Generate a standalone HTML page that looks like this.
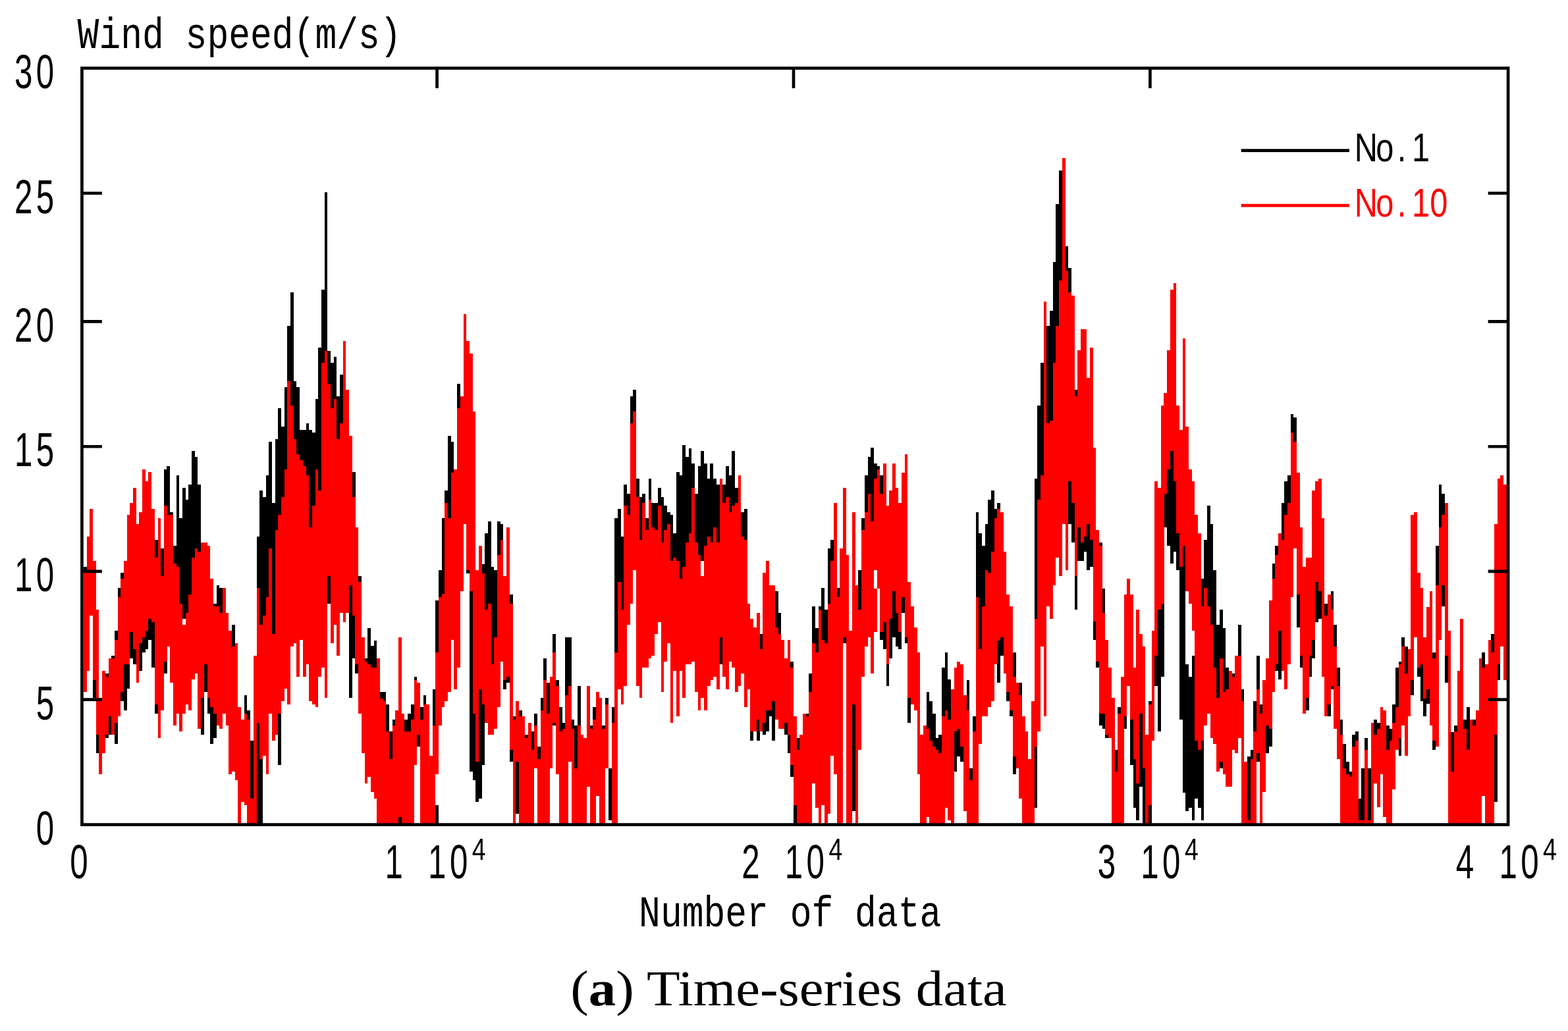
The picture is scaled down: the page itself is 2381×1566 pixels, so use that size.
<!DOCTYPE html>
<html lang="en"><head><meta charset="utf-8"><title>Time-series data</title>
<style>html,body{margin:0;padding:0;background:#fff}body{width:2381px;height:1566px;overflow:hidden}svg{display:block}</style>
</head><body>
<svg width="2381" height="1566" viewBox="0 0 2381 1566">
<defs><filter id="soft" x="0" y="0" width="100%" height="100%" filterUnits="userSpaceOnUse" color-interpolation-filters="sRGB"><feGaussianBlur stdDeviation="0.55"/></filter></defs>
<rect width="2381" height="1566" fill="#fff"/>
<g filter="url(#soft)">
<g shape-rendering="crispEdges"><path d="M127.0 861.2h4.74V870.2h-4.74zM141.0 1032.8h4.74V1060.2h-4.74zM145.7 1116.2h4.74V1143.6h-4.74zM159.8 1023.2h4.74V1120.6h-4.74zM164.5 1088.0h4.74V1116.2h-4.74zM169.2 995.5h4.74V1000.2h-4.74zM173.9 958.0h4.74V1129.6h-4.74zM178.5 893.4h4.74V907.2h-4.74zM183.2 870.2h4.74V1065.0h-4.74zM187.9 1009.4h4.74V1078.8h-4.74zM192.6 1009.4h4.74V1046.2h-4.74zM197.3 960.0h4.74V1000.2h-4.74zM202.0 985.9h4.74V1009.4h-4.74zM211.4 977.2h4.74V1018.5h-4.74zM216.0 967.7h4.74V990.7h-4.74zM220.7 958.0h4.74V985.9h-4.74zM225.4 939.8h4.74V971.9h-4.74zM230.1 944.6h4.74V1014.0h-4.74zM234.8 819.5h4.74V846.9h-4.74zM234.8 1069.6h4.74V1083.6h-4.74zM244.2 833.4h4.74V874.7h-4.74zM248.8 712.7h4.74V768.3h-4.74zM248.8 1005.0h4.74V1023.2h-4.74zM253.5 707.9h4.74V782.3h-4.74zM258.2 777.7h4.74V782.7h-4.74zM262.9 828.7h4.74V856.4h-4.74zM267.6 721.9h4.74V860.9h-4.74zM272.3 786.9h4.74V916.8h-4.74zM277.0 740.5h4.74V939.8h-4.74zM281.7 759.1h4.74V930.6h-4.74zM286.3 736.1h4.74V902.6h-4.74zM291.0 684.9h4.74V846.9h-4.74zM295.7 694.1h4.74V833.4h-4.74zM300.4 736.1h4.74V837.9h-4.74zM305.1 1060.2h4.74V1116.2h-4.74zM309.8 1009.4h4.74V1051.0h-4.74zM314.5 1060.2h4.74V1083.6h-4.74zM319.2 1074.2h4.74V1129.6h-4.74zM323.8 916.8h4.74V921.2h-4.74zM323.8 1083.6h4.74V1120.6h-4.74zM328.5 888.8h4.74V921.2h-4.74zM333.2 893.4h4.74V930.6h-4.74zM352.0 949.4h4.74V981.5h-4.74zM370.7 1055.8h4.74V1083.6h-4.74zM375.4 1078.8h4.74V1092.8h-4.74zM380.1 1125.2h4.74V1213.0h-4.74zM389.5 814.9h4.74V1250.9h-4.74zM394.1 745.3h4.74V1250.9h-4.74zM398.8 754.5h4.74V935.2h-4.74zM403.5 721.9h4.74V907.2h-4.74zM408.2 671.1h4.74V833.4h-4.74zM412.9 763.5h4.74V962.9h-4.74zM417.6 666.7h4.74V805.3h-4.74zM422.3 620.1h4.74V782.3h-4.74zM422.3 1083.6h4.74V1162.2h-4.74zM427.0 648.1h4.74V754.5h-4.74zM431.6 587.7h4.74V712.7h-4.74zM436.3 495.1h4.74V578.5h-4.74zM441.0 443.9h4.74V615.5h-4.74zM445.7 578.5h4.74V666.7h-4.74zM450.4 587.7h4.74V689.7h-4.74zM455.1 652.7h4.74V698.9h-4.74zM459.8 652.7h4.74V707.9h-4.74zM464.5 643.3h4.74V721.9h-4.74zM469.1 652.7h4.74V800.9h-4.74zM473.8 657.1h4.74V768.3h-4.74zM478.5 606.3h4.74V712.7h-4.74zM483.2 527.7h4.74V745.3h-4.74zM487.9 439.5h4.74V550.7h-4.74zM492.6 291.7h4.74V532.5h-4.74zM497.3 532.5h4.74V582.9h-4.74zM497.3 874.7h4.74V916.8h-4.74zM501.9 550.7h4.74V620.1h-4.74zM506.6 541.5h4.74V606.3h-4.74zM511.3 601.5h4.74V666.7h-4.74zM516.0 569.3h4.74V643.3h-4.74zM530.1 888.8h4.74V1060.2h-4.74zM534.8 717.1h4.74V754.5h-4.74zM534.8 935.2h4.74V1000.2h-4.74zM539.4 1009.4h4.74V1023.2h-4.74zM544.1 874.7h4.74V884.2h-4.74zM553.5 1000.2h4.74V1005.0h-4.74zM558.2 954.2h4.74V1008.9h-4.74zM562.9 981.1h4.74V1013.7h-4.74zM567.6 972.5h4.74V1013.7h-4.74zM576.9 1051.0h4.74V1060.6h-4.74zM581.6 1051.0h4.74V1065.0h-4.74zM586.3 1069.6h4.74V1111.4h-4.74zM591.0 1111.4h4.74V1152.6h-4.74zM595.7 1092.8h4.74V1102.2h-4.74zM614.4 1092.8h4.74V1111.4h-4.74zM619.1 1083.6h4.74V1111.4h-4.74zM623.8 1069.6h4.74V1092.8h-4.74zM628.5 1028.0h4.74V1032.8h-4.74zM633.2 1116.2h4.74V1134.4h-4.74zM637.9 1074.2h4.74V1092.8h-4.74zM642.6 1055.8h4.74V1069.6h-4.74zM656.6 1046.6h4.74V1102.2h-4.74zM661.3 912.0h4.74V990.7h-4.74zM661.3 1222.6h4.74V1250.9h-4.74zM666.0 866.0h4.74V907.2h-4.74zM670.7 786.9h4.74V902.4h-4.74zM675.4 745.3h4.74V763.9h-4.74zM680.1 661.9h4.74V786.9h-4.74zM684.7 671.1h4.74V717.5h-4.74zM694.1 582.9h4.74V620.1h-4.74zM708.2 866.0h4.74V870.8h-4.74zM712.9 898.2h4.74V1171.8h-4.74zM717.5 1083.6h4.74V1185.2h-4.74zM722.2 1157.4h4.74V1217.8h-4.74zM726.9 1046.6h4.74V1213.0h-4.74zM731.6 856.8h4.74V870.8h-4.74zM731.6 1069.6h4.74V1162.2h-4.74zM736.3 810.4h4.74V926.4h-4.74zM741.0 791.7h4.74V916.8h-4.74zM745.7 861.2h4.74V1009.4h-4.74zM750.4 866.0h4.74V967.7h-4.74zM755.0 791.7h4.74V842.6h-4.74zM759.7 796.1h4.74V819.5h-4.74zM764.4 1032.8h4.74V1046.6h-4.74zM769.1 1028.0h4.74V1037.2h-4.74zM773.8 903.0h4.74V916.8h-4.74zM773.8 1139.2h4.74V1157.4h-4.74zM778.5 1088.0h4.74V1092.8h-4.74zM783.2 1157.4h4.74V1236.0h-4.74zM787.9 1078.8h4.74V1088.0h-4.74zM797.2 1116.2h4.74V1120.6h-4.74zM806.6 1111.4h4.74V1139.2h-4.74zM811.3 1083.6h4.74V1102.2h-4.74zM816.0 1134.4h4.74V1152.6h-4.74zM820.7 1060.2h4.74V1078.8h-4.74zM825.4 1000.2h4.74V1032.8h-4.74zM830.0 1037.2h4.74V1083.6h-4.74zM839.4 962.9h4.74V990.7h-4.74zM839.4 1097.6h4.74V1102.2h-4.74zM844.1 1032.8h4.74V1042.0h-4.74zM848.8 1074.2h4.74V1111.4h-4.74zM853.5 1097.6h4.74V1106.6h-4.74zM858.2 967.7h4.74V1055.8h-4.74zM862.8 967.7h4.74V1042.0h-4.74zM867.5 1092.8h4.74V1106.6h-4.74zM872.2 1102.2h4.74V1167.0h-4.74zM876.9 1042.0h4.74V1102.2h-4.74zM895.7 1102.2h4.74V1106.6h-4.74zM900.3 1074.2h4.74V1092.8h-4.74zM914.4 1102.2h4.74V1106.6h-4.74zM919.1 1060.2h4.74V1069.6h-4.74zM923.8 1167.0h4.74V1245.6h-4.74zM928.5 1074.2h4.74V1097.6h-4.74zM933.2 786.9h4.74V990.7h-4.74zM937.8 773.1h4.74V884.2h-4.74zM942.5 814.9h4.74V926.4h-4.74zM947.2 736.1h4.74V768.3h-4.74zM951.9 750.1h4.74V782.3h-4.74zM956.6 601.5h4.74V643.3h-4.74zM961.3 592.3h4.74V624.9h-4.74zM966.0 726.7h4.74V754.5h-4.74zM970.6 754.5h4.74V819.5h-4.74zM975.3 750.1h4.74V763.9h-4.74zM980.0 786.9h4.74V805.3h-4.74zM984.7 726.7h4.74V759.1h-4.74zM989.4 763.9h4.74V800.9h-4.74zM994.1 763.9h4.74V805.3h-4.74zM998.8 740.5h4.74V768.3h-4.74zM1003.5 754.5h4.74V823.9h-4.74zM1008.1 768.3h4.74V805.3h-4.74zM1012.8 777.7h4.74V796.1h-4.74zM1017.5 782.3h4.74V851.7h-4.74zM1022.2 810.1h4.74V846.9h-4.74zM1026.9 717.1h4.74V851.7h-4.74zM1031.6 721.9h4.74V879.4h-4.74zM1036.3 675.9h4.74V860.9h-4.74zM1041.0 694.1h4.74V823.9h-4.74zM1045.6 680.5h4.74V810.1h-4.74zM1050.3 703.7h4.74V740.5h-4.74zM1055.0 749.7h4.74V823.9h-4.74zM1059.7 708.3h4.74V842.6h-4.74zM1064.4 684.9h4.74V851.7h-4.74zM1069.1 703.7h4.74V828.7h-4.74zM1073.8 726.7h4.74V814.9h-4.74zM1078.4 703.7h4.74V823.9h-4.74zM1083.1 726.7h4.74V800.9h-4.74zM1087.8 736.1h4.74V823.9h-4.74zM1092.5 967.7h4.74V1009.4h-4.74zM1097.2 736.1h4.74V763.9h-4.74zM1101.9 708.3h4.74V754.5h-4.74zM1106.6 721.9h4.74V777.7h-4.74zM1111.3 684.9h4.74V768.3h-4.74zM1115.9 740.5h4.74V763.9h-4.74zM1125.3 777.7h4.74V814.9h-4.74zM1130.0 773.1h4.74V819.5h-4.74zM1139.4 1111.4h4.74V1125.2h-4.74zM1148.8 1092.8h4.74V1125.2h-4.74zM1153.4 962.9h4.74V985.9h-4.74zM1158.1 1097.6h4.74V1116.2h-4.74zM1162.8 1078.8h4.74V1111.4h-4.74zM1167.5 1078.8h4.74V1088.0h-4.74zM1172.2 1065.0h4.74V1125.2h-4.74zM1176.9 898.2h4.74V953.2h-4.74zM1181.6 930.6h4.74V962.9h-4.74zM1190.9 1097.6h4.74V1116.2h-4.74zM1195.6 1116.2h4.74V1143.6h-4.74zM1200.3 1005.0h4.74V1014.0h-4.74zM1200.3 1162.2h4.74V1180.4h-4.74zM1205.0 1222.6h4.74V1250.9h-4.74zM1209.7 1120.6h4.74V1139.2h-4.74zM1223.7 1083.6h4.74V1088.0h-4.74zM1228.4 1023.2h4.74V1051.0h-4.74zM1233.1 921.2h4.74V976.9h-4.74zM1237.8 954.2h4.74V990.7h-4.74zM1242.5 921.2h4.74V926.4h-4.74zM1247.2 893.4h4.74V971.9h-4.74zM1251.9 926.4h4.74V976.9h-4.74zM1256.6 833.4h4.74V916.8h-4.74zM1261.2 819.5h4.74V851.7h-4.74zM1270.6 893.4h4.74V907.2h-4.74zM1280.0 967.7h4.74V976.9h-4.74zM1294.0 1069.6h4.74V1231.8h-4.74zM1303.4 866.0h4.74V926.0h-4.74zM1308.1 786.9h4.74V805.3h-4.74zM1312.8 721.9h4.74V777.7h-4.74zM1317.5 694.1h4.74V749.7h-4.74zM1322.2 680.1h4.74V791.7h-4.74zM1326.9 703.7h4.74V726.7h-4.74zM1331.5 708.3h4.74V712.7h-4.74zM1336.2 721.9h4.74V749.7h-4.74zM1336.2 960.0h4.74V971.9h-4.74zM1340.9 944.6h4.74V985.9h-4.74zM1345.6 1009.4h4.74V1042.0h-4.74zM1350.3 939.8h4.74V1000.2h-4.74zM1355.0 898.2h4.74V967.7h-4.74zM1359.7 930.6h4.74V981.5h-4.74zM1364.4 960.0h4.74V985.9h-4.74zM1369.0 907.2h4.74V930.6h-4.74zM1373.7 967.7h4.74V976.9h-4.74zM1378.4 1060.2h4.74V1097.6h-4.74zM1406.5 1051.0h4.74V1106.6h-4.74zM1411.2 1065.0h4.74V1125.2h-4.74zM1415.9 1083.6h4.74V1134.4h-4.74zM1420.6 1120.6h4.74V1139.2h-4.74zM1425.3 1116.2h4.74V1143.6h-4.74zM1430.0 1014.0h4.74V1088.0h-4.74zM1434.7 990.7h4.74V1078.8h-4.74zM1439.3 1032.4h4.74V1092.8h-4.74zM1448.7 1111.4h4.74V1171.8h-4.74zM1453.4 1106.6h4.74V1148.8h-4.74zM1458.1 1134.4h4.74V1157.4h-4.74zM1467.5 1032.8h4.74V1078.8h-4.74zM1472.2 1167.0h4.74V1185.2h-4.74zM1476.8 1088.0h4.74V1111.4h-4.74zM1481.5 777.7h4.74V907.2h-4.74zM1486.2 810.1h4.74V985.9h-4.74zM1490.9 828.7h4.74V921.2h-4.74zM1495.6 796.1h4.74V866.0h-4.74zM1500.3 759.1h4.74V870.2h-4.74zM1505.0 745.3h4.74V837.9h-4.74zM1509.7 773.1h4.74V786.9h-4.74zM1514.3 763.9h4.74V773.1h-4.74zM1514.3 972.5h4.74V1037.2h-4.74zM1519.0 967.7h4.74V995.5h-4.74zM1528.4 1051.0h4.74V1065.0h-4.74zM1533.1 1078.8h4.74V1088.0h-4.74zM1537.8 990.7h4.74V1028.0h-4.74zM1537.8 1148.8h4.74V1176.2h-4.74zM1547.1 1037.2h4.74V1055.8h-4.74zM1570.6 726.7h4.74V939.8h-4.74zM1570.6 1134.4h4.74V1227.0h-4.74zM1575.3 615.5h4.74V759.1h-4.74zM1580.0 550.7h4.74V721.9h-4.74zM1589.3 495.1h4.74V643.3h-4.74zM1594.0 472.1h4.74V638.9h-4.74zM1598.7 397.9h4.74V550.7h-4.74zM1603.4 309.7h4.74V495.1h-4.74zM1608.1 258.9h4.74V425.5h-4.74zM1617.5 374.4h4.74V411.4h-4.74zM1622.1 407.0h4.74V443.9h-4.74zM1622.1 731.3h4.74V795.9h-4.74zM1626.8 763.9h4.74V823.9h-4.74zM1631.5 592.3h4.74V601.5h-4.74zM1631.5 874.8h4.74V925.8h-4.74zM1636.2 801.1h4.74V851.7h-4.74zM1640.9 823.9h4.74V851.7h-4.74zM1645.6 815.0h4.74V837.7h-4.74zM1650.3 795.9h4.74V865.6h-4.74zM1654.9 819.8h4.74V860.9h-4.74zM1659.6 944.4h4.74V971.9h-4.74zM1664.3 1005.0h4.74V1014.0h-4.74zM1669.0 824.2h4.74V828.8h-4.74zM1669.0 1083.6h4.74V1102.2h-4.74zM1673.7 893.6h4.74V930.6h-4.74zM1673.7 1083.6h4.74V1106.6h-4.74zM1678.4 1116.2h4.74V1120.6h-4.74zM1692.4 1139.2h4.74V1171.8h-4.74zM1697.1 1074.2h4.74V1083.6h-4.74zM1706.5 1088.0h4.74V1106.6h-4.74zM1715.9 1092.8h4.74V1162.2h-4.74zM1720.6 1152.6h4.74V1227.0h-4.74zM1725.3 1190.0h4.74V1245.6h-4.74zM1729.9 1083.6h4.74V1194.8h-4.74zM1734.6 1167.0h4.74V1250.9h-4.74zM1744.0 1065.0h4.74V1069.6h-4.74zM1744.0 1222.6h4.74V1250.9h-4.74zM1753.4 995.5h4.74V1042.0h-4.74zM1758.1 926.0h4.74V1111.4h-4.74zM1762.8 916.8h4.74V1028.0h-4.74zM1767.4 750.1h4.74V800.9h-4.74zM1772.1 712.7h4.74V828.7h-4.74zM1776.8 684.9h4.74V856.4h-4.74zM1781.5 731.3h4.74V838.2h-4.74zM1786.2 810.1h4.74V866.0h-4.74zM1790.9 861.2h4.74V1092.8h-4.74zM1795.6 828.7h4.74V1203.8h-4.74zM1800.2 1009.4h4.74V1231.8h-4.74zM1804.9 1028.0h4.74V1227.0h-4.74zM1809.6 995.5h4.74V1245.6h-4.74zM1814.3 1125.2h4.74V1213.0h-4.74zM1819.0 1139.2h4.74V1227.0h-4.74zM1823.7 879.4h4.74V921.2h-4.74zM1823.7 1125.2h4.74V1245.6h-4.74zM1828.4 819.5h4.74V893.4h-4.74zM1833.1 768.3h4.74V921.2h-4.74zM1837.7 796.1h4.74V949.4h-4.74zM1842.4 866.0h4.74V1014.0h-4.74zM1847.1 949.4h4.74V1060.2h-4.74zM1851.8 926.0h4.74V1000.2h-4.74zM1851.8 1157.4h4.74V1167.0h-4.74zM1856.5 954.2h4.74V1051.0h-4.74zM1861.2 1014.0h4.74V1046.6h-4.74zM1870.6 1023.2h4.74V1028.0h-4.74zM1879.9 949.4h4.74V995.5h-4.74zM1884.6 1046.6h4.74V1065.0h-4.74zM1894.0 1148.8h4.74V1245.6h-4.74zM1898.7 1139.2h4.74V1152.6h-4.74zM1903.4 1065.0h4.74V1111.4h-4.74zM1908.0 995.5h4.74V1046.6h-4.74zM1908.0 1144.0h4.74V1157.4h-4.74zM1912.7 1069.6h4.74V1083.6h-4.74zM1922.1 1102.2h4.74V1143.6h-4.74zM1926.8 1106.6h4.74V1134.4h-4.74zM1931.5 856.4h4.74V879.4h-4.74zM1936.2 828.7h4.74V842.6h-4.74zM1936.2 1009.4h4.74V1018.5h-4.74zM1940.9 958.0h4.74V1032.4h-4.74zM1945.5 763.9h4.74V819.5h-4.74zM1950.2 731.3h4.74V782.3h-4.74zM1954.9 721.9h4.74V763.9h-4.74zM1959.6 629.3h4.74V657.1h-4.74zM1964.3 634.1h4.74V671.1h-4.74zM1969.0 903.0h4.74V953.2h-4.74zM1973.7 995.5h4.74V1014.0h-4.74zM1983.0 1060.2h4.74V1078.8h-4.74zM1987.7 995.5h4.74V1028.0h-4.74zM1992.4 971.9h4.74V1000.2h-4.74zM1997.1 884.2h4.74V944.6h-4.74zM2001.8 898.2h4.74V939.8h-4.74zM2011.2 916.8h4.74V935.2h-4.74zM2015.8 1069.6h4.74V1088.0h-4.74zM2020.5 898.2h4.74V926.0h-4.74zM2020.5 1042.0h4.74V1046.6h-4.74zM2025.2 949.4h4.74V981.5h-4.74zM2029.9 1014.0h4.74V1042.0h-4.74zM2034.6 1092.8h4.74V1116.2h-4.74zM2039.3 1130.0h4.74V1167.0h-4.74zM2044.0 1157.4h4.74V1176.2h-4.74zM2048.7 1171.8h4.74V1180.4h-4.74zM2053.3 1116.2h4.74V1134.4h-4.74zM2058.0 1111.4h4.74V1125.2h-4.74zM2062.7 1213.0h4.74V1245.6h-4.74zM2067.4 1167.0h4.74V1245.6h-4.74zM2072.1 1120.6h4.74V1139.2h-4.74zM2076.8 1167.0h4.74V1245.6h-4.74zM2086.2 1092.8h4.74V1116.2h-4.74zM2090.8 1097.6h4.74V1106.6h-4.74zM2104.9 1102.2h4.74V1139.2h-4.74zM2109.6 1106.6h4.74V1125.2h-4.74zM2114.3 1069.6h4.74V1097.6h-4.74zM2119.0 1014.0h4.74V1074.2h-4.74zM2123.6 1005.0h4.74V1009.4h-4.74zM2123.6 1120.6h4.74V1148.2h-4.74zM2128.3 967.9h4.74V981.5h-4.74zM2133.0 981.5h4.74V1023.1h-4.74zM2142.4 1032.6h4.74V1055.8h-4.74zM2151.8 1014.2h4.74V1027.8h-4.74zM2156.5 1009.4h4.74V1064.5h-4.74zM2161.1 1060.6h4.74V1087.6h-4.74zM2165.8 1047.0h4.74V1069.2h-4.74zM2175.2 991.0h4.74V999.9h-4.74zM2175.2 1125.2h4.74V1138.8h-4.74zM2179.9 828.7h4.74V888.8h-4.74zM2184.6 736.1h4.74V800.9h-4.74zM2189.3 750.1h4.74V782.3h-4.74zM2189.3 888.8h4.74V921.2h-4.74zM2194.0 995.8h4.74V1036.7h-4.74zM2203.3 1111.6h4.74V1171.8h-4.74zM2208.0 1102.0h4.74V1110.8h-4.74zM2222.1 1093.2h4.74V1106.8h-4.74zM2226.8 1074.0h4.74V1138.8h-4.74zM2236.1 1093.2h4.74V1102.0h-4.74zM2250.2 991.0h4.74V1014.2h-4.74zM2264.3 963.1h4.74V991.0h-4.74zM2268.9 1115.6h4.74V1217.8h-4.74zM2273.6 1009.4h4.74V1032.6h-4.74z" fill="#000"/>
<path d="M127.0 865.6h4.74V1051.0h-4.74zM131.7 814.9h4.74V1018.5h-4.74zM136.4 773.1h4.74V935.0h-4.74zM141.0 851.7h4.74V1032.8h-4.74zM145.7 926.0h4.74V1116.2h-4.74zM150.4 1060.2h4.74V1175.6h-4.74zM155.1 1018.5h4.74V1143.6h-4.74zM159.8 1028.0h4.74V1116.2h-4.74zM164.5 1000.2h4.74V1088.0h-4.74zM169.2 1000.2h4.74V1116.2h-4.74zM173.9 971.9h4.74V1097.6h-4.74zM178.5 907.2h4.74V1088.0h-4.74zM183.2 879.4h4.74V1051.0h-4.74zM187.9 851.7h4.74V1009.4h-4.74zM192.6 782.3h4.74V1009.4h-4.74zM197.3 763.9h4.74V960.0h-4.74zM202.0 740.5h4.74V985.9h-4.74zM206.7 796.1h4.74V1037.2h-4.74zM211.4 777.7h4.74V977.2h-4.74zM216.0 712.7h4.74V967.7h-4.74zM220.7 731.3h4.74V958.0h-4.74zM225.4 717.1h4.74V939.8h-4.74zM230.1 773.1h4.74V944.6h-4.74zM234.8 846.9h4.74V1069.6h-4.74zM239.5 786.9h4.74V1120.6h-4.74zM244.2 874.7h4.74V1078.8h-4.74zM248.8 768.3h4.74V1005.0h-4.74zM253.5 782.3h4.74V981.5h-4.74zM258.2 782.3h4.74V1037.2h-4.74zM262.9 856.4h4.74V1102.2h-4.74zM267.6 860.9h4.74V1083.6h-4.74zM272.3 916.8h4.74V1111.4h-4.74zM277.0 949.4h4.74V1083.6h-4.74zM281.7 930.6h4.74V1069.6h-4.74zM286.3 902.6h4.74V1078.8h-4.74zM291.0 846.9h4.74V1032.4h-4.74zM295.7 833.4h4.74V1023.2h-4.74zM300.4 837.9h4.74V1106.6h-4.74zM305.1 823.9h4.74V1060.2h-4.74zM309.8 823.9h4.74V1009.4h-4.74zM314.5 828.7h4.74V1060.2h-4.74zM319.2 879.4h4.74V1074.2h-4.74zM323.8 921.2h4.74V1083.6h-4.74zM328.5 921.2h4.74V1102.2h-4.74zM333.2 930.6h4.74V1106.6h-4.74zM337.9 893.4h4.74V1083.6h-4.74zM342.6 930.6h4.74V1102.2h-4.74zM347.3 958.0h4.74V1175.6h-4.74zM352.0 981.5h4.74V1171.8h-4.74zM356.7 976.9h4.74V1185.2h-4.74zM361.3 1074.2h4.74V1250.9h-4.74zM366.0 1092.8h4.74V1217.8h-4.74zM370.7 1083.6h4.74V1222.6h-4.74zM375.4 1092.8h4.74V1250.9h-4.74zM380.1 1213.0h4.74V1250.9h-4.74zM384.8 995.5h4.74V1250.9h-4.74zM389.5 893.4h4.74V1097.6h-4.74zM394.1 949.4h4.74V1152.6h-4.74zM398.8 935.2h4.74V1148.2h-4.74zM403.5 907.2h4.74V1175.6h-4.74zM408.2 833.4h4.74V1083.6h-4.74zM412.9 962.9h4.74V1125.2h-4.74zM417.6 805.3h4.74V1116.2h-4.74zM422.3 782.3h4.74V1083.6h-4.74zM427.0 754.5h4.74V1065.0h-4.74zM431.6 712.7h4.74V1046.2h-4.74zM436.3 578.5h4.74V1069.6h-4.74zM441.0 615.5h4.74V981.5h-4.74zM445.7 666.7h4.74V976.9h-4.74zM450.4 689.7h4.74V1028.0h-4.74zM455.1 698.9h4.74V971.9h-4.74zM459.8 707.9h4.74V1028.0h-4.74zM464.5 721.9h4.74V1009.4h-4.74zM469.1 800.9h4.74V1065.0h-4.74zM473.8 768.3h4.74V1069.6h-4.74zM478.5 712.7h4.74V1074.2h-4.74zM483.2 745.3h4.74V1028.0h-4.74zM487.9 550.7h4.74V1014.0h-4.74zM492.6 532.5h4.74V1060.2h-4.74zM497.3 582.9h4.74V874.7h-4.74zM501.9 620.1h4.74V976.9h-4.74zM506.6 606.3h4.74V949.4h-4.74zM511.3 666.7h4.74V995.5h-4.74zM516.0 643.3h4.74V930.6h-4.74zM520.7 518.1h4.74V944.6h-4.74zM525.4 592.3h4.74V930.6h-4.74zM530.1 661.9h4.74V888.8h-4.74zM534.8 754.5h4.74V935.2h-4.74zM539.4 800.9h4.74V1009.4h-4.74zM544.1 884.2h4.74V1083.6h-4.74zM548.8 967.7h4.74V1143.6h-4.74zM553.5 1005.0h4.74V1190.0h-4.74zM558.2 1008.9h4.74V1180.4h-4.74zM562.9 1013.7h4.74V1203.4h-4.74zM567.6 1013.7h4.74V1213.0h-4.74zM572.3 1000.2h4.74V1250.9h-4.74zM576.9 1060.6h4.74V1250.9h-4.74zM581.6 1065.0h4.74V1250.9h-4.74zM586.3 1111.4h4.74V1250.9h-4.74zM591.0 1152.6h4.74V1250.9h-4.74zM595.7 1102.2h4.74V1250.9h-4.74zM600.4 1078.8h4.74V1250.9h-4.74zM605.1 967.7h4.74V1250.9h-4.74zM609.7 1083.6h4.74V1250.9h-4.74zM614.4 1111.4h4.74V1250.9h-4.74zM619.1 1111.4h4.74V1250.9h-4.74zM623.8 1092.8h4.74V1250.9h-4.74zM628.5 1032.8h4.74V1162.2h-4.74zM633.2 1037.2h4.74V1116.2h-4.74zM637.9 1092.8h4.74V1250.9h-4.74zM642.6 1069.6h4.74V1250.9h-4.74zM647.2 1069.6h4.74V1250.9h-4.74zM651.9 1148.2h4.74V1250.9h-4.74zM656.6 1102.2h4.74V1250.9h-4.74zM661.3 990.7h4.74V1176.2h-4.74zM666.0 907.2h4.74V1102.2h-4.74zM670.7 902.4h4.74V1074.2h-4.74zM675.4 763.9h4.74V1065.0h-4.74zM680.1 786.9h4.74V1051.0h-4.74zM684.7 717.5h4.74V971.9h-4.74zM689.4 712.7h4.74V1046.6h-4.74zM694.1 620.1h4.74V1014.0h-4.74zM698.8 601.5h4.74V898.2h-4.74zM703.5 476.5h4.74V796.1h-4.74zM708.2 518.1h4.74V866.0h-4.74zM712.9 536.7h4.74V898.2h-4.74zM717.5 624.9h4.74V1083.6h-4.74zM722.2 866.0h4.74V1157.4h-4.74zM726.9 828.7h4.74V1046.6h-4.74zM731.6 870.8h4.74V1069.6h-4.74zM736.3 926.4h4.74V1097.6h-4.74zM741.0 916.8h4.74V1116.2h-4.74zM745.7 1009.4h4.74V1116.2h-4.74zM750.4 967.7h4.74V1106.6h-4.74zM755.0 842.6h4.74V1074.2h-4.74zM759.7 819.5h4.74V1005.0h-4.74zM764.4 875.0h4.74V1032.8h-4.74zM769.1 800.9h4.74V1028.0h-4.74zM773.8 916.8h4.74V1139.2h-4.74zM778.5 1092.8h4.74V1250.9h-4.74zM783.2 1065.0h4.74V1157.4h-4.74zM787.9 1088.0h4.74V1250.9h-4.74zM792.5 1088.0h4.74V1250.9h-4.74zM797.2 1120.6h4.74V1250.9h-4.74zM801.9 1097.6h4.74V1250.9h-4.74zM806.6 1139.2h4.74V1250.9h-4.74zM811.3 1102.2h4.74V1167.0h-4.74zM816.0 1152.6h4.74V1250.9h-4.74zM820.7 1078.8h4.74V1250.9h-4.74zM825.4 1032.8h4.74V1250.9h-4.74zM830.0 1083.6h4.74V1250.9h-4.74zM834.7 1028.0h4.74V1167.0h-4.74zM839.4 990.7h4.74V1097.6h-4.74zM844.1 1042.0h4.74V1176.2h-4.74zM848.8 1111.4h4.74V1250.9h-4.74zM853.5 1106.6h4.74V1250.9h-4.74zM858.2 1055.8h4.74V1250.9h-4.74zM862.8 1042.0h4.74V1157.4h-4.74zM867.5 1106.6h4.74V1250.9h-4.74zM872.2 1167.0h4.74V1250.9h-4.74zM876.9 1102.2h4.74V1250.9h-4.74zM881.6 1116.2h4.74V1250.9h-4.74zM886.3 1120.6h4.74V1250.9h-4.74zM891.0 1042.0h4.74V1194.8h-4.74zM895.7 1106.6h4.74V1250.9h-4.74zM900.3 1092.8h4.74V1250.9h-4.74zM905.0 1051.0h4.74V1209.1h-4.74zM909.7 1060.2h4.74V1250.9h-4.74zM914.4 1106.6h4.74V1250.9h-4.74zM919.1 1069.6h4.74V1167.0h-4.74zM928.5 1097.6h4.74V1250.9h-4.74zM933.2 990.7h4.74V1250.9h-4.74zM937.8 884.2h4.74V1046.6h-4.74zM942.5 926.4h4.74V1069.6h-4.74zM947.2 768.3h4.74V1042.0h-4.74zM951.9 782.3h4.74V949.4h-4.74zM956.6 643.3h4.74V916.8h-4.74zM961.3 624.9h4.74V866.0h-4.74zM966.0 754.5h4.74V1042.0h-4.74zM970.6 819.5h4.74V1060.2h-4.74zM975.3 763.9h4.74V1014.0h-4.74zM980.0 805.3h4.74V1014.0h-4.74zM984.7 759.1h4.74V1000.2h-4.74zM989.4 800.9h4.74V995.5h-4.74zM994.1 805.3h4.74V962.9h-4.74zM998.8 768.3h4.74V944.6h-4.74zM1003.5 823.9h4.74V1051.0h-4.74zM1008.1 805.3h4.74V1005.0h-4.74zM1012.8 796.1h4.74V976.9h-4.74zM1017.5 851.7h4.74V1097.6h-4.74zM1022.2 846.9h4.74V1018.5h-4.74zM1026.9 851.7h4.74V1088.0h-4.74zM1031.6 879.4h4.74V1018.5h-4.74zM1036.3 860.9h4.74V1060.2h-4.74zM1041.0 823.9h4.74V1009.4h-4.74zM1045.6 810.1h4.74V1009.4h-4.74zM1050.3 740.5h4.74V1005.0h-4.74zM1055.0 823.9h4.74V1051.0h-4.74zM1059.7 842.6h4.74V1078.8h-4.74zM1064.4 874.7h4.74V1060.2h-4.74zM1069.1 828.7h4.74V1078.8h-4.74zM1073.8 814.9h4.74V1042.0h-4.74zM1078.4 823.9h4.74V1032.8h-4.74zM1083.1 800.9h4.74V1028.0h-4.74zM1087.8 823.9h4.74V1046.6h-4.74zM1092.5 726.7h4.74V967.7h-4.74zM1097.2 763.9h4.74V1028.0h-4.74zM1101.9 754.5h4.74V1046.6h-4.74zM1106.6 777.7h4.74V1005.0h-4.74zM1111.3 768.3h4.74V1014.0h-4.74zM1115.9 763.9h4.74V1051.0h-4.74zM1120.6 721.9h4.74V1042.0h-4.74zM1125.3 814.9h4.74V1023.2h-4.74zM1130.0 819.5h4.74V1074.2h-4.74zM1134.7 916.8h4.74V1046.6h-4.74zM1139.4 939.8h4.74V1111.4h-4.74zM1144.1 953.2h4.74V1111.4h-4.74zM1148.8 930.6h4.74V1092.8h-4.74zM1153.4 985.9h4.74V1111.4h-4.74zM1158.1 870.2h4.74V1097.6h-4.74zM1162.8 851.7h4.74V1078.8h-4.74zM1167.5 888.8h4.74V1078.8h-4.74zM1172.2 888.8h4.74V1065.0h-4.74zM1176.9 953.2h4.74V1092.8h-4.74zM1181.6 962.9h4.74V1106.6h-4.74zM1186.2 971.9h4.74V1106.6h-4.74zM1190.9 1000.2h4.74V1097.6h-4.74zM1195.6 971.9h4.74V1116.2h-4.74zM1200.3 1014.0h4.74V1162.2h-4.74zM1205.0 1088.0h4.74V1222.6h-4.74zM1209.7 1139.2h4.74V1250.9h-4.74zM1214.4 1116.2h4.74V1250.9h-4.74zM1219.1 1083.6h4.74V1250.9h-4.74zM1223.7 1088.0h4.74V1250.9h-4.74zM1228.4 1051.0h4.74V1250.9h-4.74zM1233.1 976.9h4.74V1190.0h-4.74zM1237.8 990.7h4.74V1227.4h-4.74zM1242.5 926.4h4.74V1250.9h-4.74zM1247.2 971.9h4.74V1222.6h-4.74zM1251.9 976.9h4.74V1250.9h-4.74zM1256.6 916.8h4.74V1236.0h-4.74zM1261.2 851.7h4.74V1148.2h-4.74zM1265.9 763.9h4.74V1176.2h-4.74zM1270.6 907.2h4.74V1250.9h-4.74zM1275.3 833.4h4.74V1250.9h-4.74zM1280.0 740.5h4.74V967.7h-4.74zM1284.7 842.6h4.74V1250.9h-4.74zM1289.4 958.0h4.74V1250.9h-4.74zM1294.0 777.7h4.74V1069.6h-4.74zM1298.7 888.8h4.74V1250.9h-4.74zM1303.4 926.0h4.74V1139.2h-4.74zM1308.1 805.3h4.74V1028.0h-4.74zM1312.8 777.7h4.74V981.5h-4.74zM1317.5 749.7h4.74V967.7h-4.74zM1322.2 791.7h4.74V1023.2h-4.74zM1326.9 726.7h4.74V866.0h-4.74zM1326.9 893.8h4.74V959.9h-4.74zM1331.5 712.7h4.74V893.8h-4.74zM1336.2 749.7h4.74V960.0h-4.74zM1340.9 703.7h4.74V944.6h-4.74zM1345.6 768.3h4.74V1009.4h-4.74zM1350.3 745.3h4.74V939.8h-4.74zM1355.0 703.7h4.74V898.2h-4.74zM1359.7 740.5h4.74V930.6h-4.74zM1364.4 763.9h4.74V960.0h-4.74zM1369.0 717.5h4.74V907.2h-4.74zM1373.7 689.7h4.74V967.7h-4.74zM1378.4 884.2h4.74V1060.2h-4.74zM1383.1 921.2h4.74V1069.6h-4.74zM1387.8 953.2h4.74V1078.8h-4.74zM1392.5 990.7h4.74V1176.2h-4.74zM1397.2 1116.2h4.74V1250.9h-4.74zM1401.9 1102.2h4.74V1250.9h-4.74zM1406.5 1106.6h4.74V1241.3h-4.74zM1411.2 1125.2h4.74V1250.9h-4.74zM1415.9 1134.4h4.74V1250.9h-4.74zM1420.6 1139.2h4.74V1250.9h-4.74zM1425.3 1143.6h4.74V1250.9h-4.74zM1430.0 1088.0h4.74V1250.9h-4.74zM1434.7 1078.8h4.74V1227.4h-4.74zM1439.3 1092.8h4.74V1245.6h-4.74zM1444.0 1046.6h4.74V1250.9h-4.74zM1448.7 1014.0h4.74V1111.4h-4.74zM1453.4 1005.0h4.74V1106.6h-4.74zM1458.1 1009.4h4.74V1134.4h-4.74zM1462.8 1055.8h4.74V1231.8h-4.74zM1467.5 1078.8h4.74V1250.9h-4.74zM1472.2 1185.2h4.74V1250.9h-4.74zM1476.8 1111.4h4.74V1250.9h-4.74zM1481.5 907.2h4.74V1250.9h-4.74zM1486.2 985.9h4.74V1129.6h-4.74zM1490.9 921.2h4.74V1088.0h-4.74zM1495.6 866.0h4.74V1088.0h-4.74zM1500.3 870.2h4.74V1074.2h-4.74zM1505.0 837.9h4.74V1065.0h-4.74zM1509.7 786.9h4.74V1009.4h-4.74zM1514.3 773.1h4.74V972.5h-4.74zM1519.0 777.7h4.74V967.7h-4.74zM1523.7 837.9h4.74V1023.2h-4.74zM1528.4 903.0h4.74V1051.0h-4.74zM1533.1 921.2h4.74V1078.8h-4.74zM1537.8 1028.0h4.74V1148.8h-4.74zM1542.5 1037.2h4.74V1167.0h-4.74zM1547.1 1055.8h4.74V1213.0h-4.74zM1551.8 1088.0h4.74V1250.9h-4.74zM1556.5 1111.4h4.74V1250.9h-4.74zM1561.2 1152.6h4.74V1250.9h-4.74zM1565.9 1065.0h4.74V1250.9h-4.74zM1570.6 939.8h4.74V1134.4h-4.74zM1575.3 759.1h4.74V1111.4h-4.74zM1580.0 721.9h4.74V981.7h-4.74zM1584.6 458.1h4.74V1088.0h-4.74zM1589.3 643.3h4.74V921.0h-4.74zM1594.0 638.9h4.74V939.8h-4.74zM1598.7 550.7h4.74V888.6h-4.74zM1603.4 495.1h4.74V847.1h-4.74zM1608.1 425.5h4.74V874.8h-4.74zM1612.8 240.2h4.74V795.9h-4.74zM1617.5 411.4h4.74V865.6h-4.74zM1622.1 443.9h4.74V731.3h-4.74zM1626.8 448.7h4.74V763.9h-4.74zM1631.5 601.5h4.74V874.8h-4.74zM1636.2 532.1h4.74V801.1h-4.74zM1640.9 499.9h4.74V823.9h-4.74zM1645.6 499.9h4.74V815.0h-4.74zM1650.3 573.7h4.74V795.9h-4.74zM1654.9 527.7h4.74V819.8h-4.74zM1659.6 680.1h4.74V944.4h-4.74zM1664.3 805.3h4.74V1005.0h-4.74zM1669.0 828.8h4.74V1083.6h-4.74zM1673.7 930.6h4.74V1083.6h-4.74zM1678.4 971.9h4.74V1116.2h-4.74zM1683.1 1014.0h4.74V1120.6h-4.74zM1687.8 1060.2h4.74V1250.9h-4.74zM1692.4 1171.8h4.74V1250.9h-4.74zM1697.1 1083.6h4.74V1250.9h-4.74zM1701.8 1028.0h4.74V1250.9h-4.74zM1706.5 903.0h4.74V1088.0h-4.74zM1711.2 879.4h4.74V1042.0h-4.74zM1715.9 903.0h4.74V1092.8h-4.74zM1720.6 1014.0h4.74V1152.6h-4.74zM1725.3 926.0h4.74V1190.0h-4.74zM1729.9 962.9h4.74V1083.6h-4.74zM1734.6 981.5h4.74V1167.0h-4.74zM1739.3 1116.2h4.74V1250.9h-4.74zM1744.0 1069.6h4.74V1222.6h-4.74zM1748.7 958.0h4.74V1125.2h-4.74zM1753.4 731.3h4.74V995.5h-4.74zM1758.1 740.5h4.74V926.0h-4.74zM1762.8 615.5h4.74V916.8h-4.74zM1767.4 597.1h4.74V750.1h-4.74zM1772.1 532.1h4.74V712.7h-4.74zM1776.8 439.5h4.74V684.9h-4.74zM1781.5 430.3h4.74V731.3h-4.74zM1786.2 615.5h4.74V810.1h-4.74zM1790.9 652.7h4.74V861.2h-4.74zM1795.6 513.7h4.74V828.7h-4.74zM1800.2 648.1h4.74V898.2h-4.74zM1804.9 712.7h4.74V916.8h-4.74zM1809.6 731.3h4.74V958.0h-4.74zM1814.3 782.3h4.74V1125.2h-4.74zM1819.0 810.1h4.74V1139.2h-4.74zM1823.7 921.2h4.74V1125.2h-4.74zM1828.4 893.4h4.74V1102.2h-4.74zM1833.1 921.2h4.74V1083.6h-4.74zM1837.7 949.4h4.74V1120.6h-4.74zM1842.4 1014.0h4.74V1129.6h-4.74zM1847.1 1060.2h4.74V1171.8h-4.74zM1851.8 1000.2h4.74V1157.4h-4.74zM1856.5 1051.0h4.74V1176.2h-4.74zM1861.2 1046.6h4.74V1194.8h-4.74zM1865.9 1018.5h4.74V1194.8h-4.74zM1870.6 1028.0h4.74V1139.2h-4.74zM1875.2 995.5h4.74V1143.6h-4.74zM1879.9 995.5h4.74V1120.6h-4.74zM1884.6 1065.0h4.74V1250.9h-4.74zM1889.3 1157.4h4.74V1250.9h-4.74zM1894.0 1245.6h4.74V1250.9h-4.74zM1898.7 1152.6h4.74V1250.9h-4.74zM1903.4 1111.4h4.74V1250.9h-4.74zM1908.0 1046.6h4.74V1144.0h-4.74zM1912.7 1083.6h4.74V1250.9h-4.74zM1917.4 1032.8h4.74V1203.4h-4.74zM1922.1 1000.2h4.74V1102.2h-4.74zM1926.8 912.0h4.74V1106.6h-4.74zM1931.5 879.4h4.74V1051.0h-4.74zM1936.2 842.6h4.74V1009.4h-4.74zM1940.9 810.1h4.74V958.0h-4.74zM1945.5 819.5h4.74V1018.5h-4.74zM1950.2 782.3h4.74V1046.6h-4.74zM1954.9 763.9h4.74V1009.4h-4.74zM1959.6 657.1h4.74V907.2h-4.74zM1964.3 671.1h4.74V833.4h-4.74zM1969.0 717.5h4.74V903.0h-4.74zM1973.7 800.9h4.74V995.5h-4.74zM1978.4 860.9h4.74V1083.6h-4.74zM1983.0 846.9h4.74V1060.2h-4.74zM1987.7 846.9h4.74V995.5h-4.74zM1992.4 745.3h4.74V971.9h-4.74zM1997.1 731.3h4.74V884.2h-4.74zM2001.8 726.7h4.74V898.2h-4.74zM2006.5 786.9h4.74V1028.0h-4.74zM2011.2 935.2h4.74V1088.0h-4.74zM2015.8 903.0h4.74V1069.6h-4.74zM2020.5 926.0h4.74V1042.0h-4.74zM2025.2 981.5h4.74V1106.6h-4.74zM2029.9 1042.0h4.74V1152.6h-4.74zM2034.6 1116.2h4.74V1250.9h-4.74zM2039.3 1167.0h4.74V1250.9h-4.74zM2044.0 1176.2h4.74V1250.9h-4.74zM2048.7 1180.4h4.74V1250.9h-4.74zM2053.3 1134.4h4.74V1250.9h-4.74zM2058.0 1125.2h4.74V1250.9h-4.74zM2062.7 1245.6h4.74V1250.9h-4.74zM2067.4 1245.6h4.74V1250.9h-4.74zM2072.1 1139.2h4.74V1250.9h-4.74zM2076.8 1245.6h4.74V1250.9h-4.74zM2081.5 1097.6h4.74V1250.9h-4.74zM2086.2 1116.2h4.74V1190.0h-4.74zM2090.8 1106.6h4.74V1226.4h-4.74zM2095.5 1074.2h4.74V1176.2h-4.74zM2100.2 1078.8h4.74V1240.8h-4.74zM2104.9 1139.2h4.74V1250.9h-4.74zM2109.6 1125.2h4.74V1250.9h-4.74zM2114.3 1097.6h4.74V1199.2h-4.74zM2119.0 1074.2h4.74V1139.2h-4.74zM2123.6 1009.4h4.74V1120.6h-4.74zM2128.3 981.5h4.74V1102.0h-4.74zM2133.0 1023.1h4.74V1148.4h-4.74zM2137.7 986.3h4.74V1087.6h-4.74zM2142.4 782.3h4.74V1032.6h-4.74zM2147.1 777.7h4.74V967.9h-4.74zM2151.8 870.2h4.74V1014.2h-4.74zM2156.5 893.4h4.74V1009.4h-4.74zM2161.1 967.9h4.74V1060.6h-4.74zM2165.8 921.6h4.74V1047.0h-4.74zM2170.5 898.2h4.74V1102.0h-4.74zM2175.2 999.9h4.74V1125.2h-4.74zM2179.9 888.8h4.74V1134.0h-4.74zM2184.6 800.9h4.74V971.9h-4.74zM2189.3 782.3h4.74V888.8h-4.74zM2194.0 763.9h4.74V995.8h-4.74zM2198.6 958.0h4.74V1250.9h-4.74zM2203.3 1171.8h4.74V1250.9h-4.74zM2208.0 1110.8h4.74V1250.9h-4.74zM2212.7 1019.0h4.74V1250.9h-4.74zM2217.4 939.8h4.74V1250.9h-4.74zM2222.1 1106.8h4.74V1250.9h-4.74zM2226.8 1138.8h4.74V1250.9h-4.74zM2231.5 1093.2h4.74V1250.9h-4.74zM2236.1 1102.0h4.74V1250.9h-4.74zM2240.8 1078.8h4.74V1250.9h-4.74zM2245.5 999.9h4.74V1250.9h-4.74zM2250.2 1014.2h4.74V1208.6h-4.74zM2254.9 1009.4h4.74V1250.9h-4.74zM2259.6 971.9h4.74V1250.9h-4.74zM2264.3 991.0h4.74V1250.9h-4.74zM2268.9 796.1h4.74V1115.6h-4.74zM2273.6 726.7h4.74V1009.4h-4.74zM2278.3 721.9h4.74V981.5h-4.74zM2283.0 736.1h4.74V1032.6h-4.74z" fill="#fe0000"/>
<path d="M605.1 1241.3h4.74V1250.9h-4.74z" fill="#000"/>
</g>

<rect x="124.43" y="103.53" width="2165.65" height="1149.02" fill="none" stroke="#000" stroke-width="4.65"/>
<path d="M124.43 293.50h30.43M2290.08 293.50h-30.43M124.43 488.30h30.43M2290.08 488.30h-30.43M124.43 678.20h30.43M2290.08 678.20h-30.43M124.43 867.90h30.43M2290.08 867.90h-30.43M124.43 1062.60h30.43M2290.08 1062.60h-30.43M663.60 103.53v30.43M1205.00 103.53v30.43M1746.40 103.53v30.43" fill="none" stroke="#000" stroke-width="4.65"/>
<path d="M1884.7 228.55H2048.9" stroke="#000" stroke-width="4.8"/>
<path d="M1884.7 312.2H2048.9" stroke="#fe0000" stroke-width="4.8"/>
</g>
<text transform="translate(117.60 73.30) scale(0.8159 1)" x="0.00 40.20 80.40 120.60 160.80 201.00 241.20 281.40 321.60 361.80 402.00 442.20 482.40 522.60 562.80" font-family="&quot;Liberation Mono&quot;, monospace" font-size="67.00" fill="#000" xml:space="preserve">Wind speed(m/s)</text>
<text transform="translate(970.10 1407.00) scale(0.8159 1)" x="0.00 40.20 80.40 120.60 160.80 201.00 241.20 281.40 321.60 361.80 402.00 442.20 482.40 522.60" font-family="&quot;Liberation Mono&quot;, monospace" font-size="67.00" fill="#000" xml:space="preserve">Number of data</text>
<text transform="translate(21.89 133.73) scale(0.6800 1)" x="0.00 48.31" font-family="&quot;Liberation Sans&quot;, sans-serif" font-size="72.50" fill="#000" xml:space="preserve">30</text>
<text transform="translate(21.89 323.70) scale(0.6800 1)" x="0.00 48.31" font-family="&quot;Liberation Sans&quot;, sans-serif" font-size="72.50" fill="#000" xml:space="preserve">25</text>
<text transform="translate(21.89 518.50) scale(0.6800 1)" x="0.00 48.31" font-family="&quot;Liberation Sans&quot;, sans-serif" font-size="72.50" fill="#000" xml:space="preserve">20</text>
<text transform="translate(21.89 708.40) scale(0.6800 1)" x="0.00 48.31" font-family="&quot;Liberation Sans&quot;, sans-serif" font-size="72.50" fill="#000" xml:space="preserve">15</text>
<text transform="translate(21.89 898.10) scale(0.6800 1)" x="0.00 48.31" font-family="&quot;Liberation Sans&quot;, sans-serif" font-size="72.50" fill="#000" xml:space="preserve">10</text>
<text transform="translate(54.74 1092.80) scale(0.6800 1)" x="0.00" font-family="&quot;Liberation Sans&quot;, sans-serif" font-size="72.50" fill="#000" xml:space="preserve">5</text>
<text transform="translate(54.74 1282.70) scale(0.6800 1)" x="0.00" font-family="&quot;Liberation Sans&quot;, sans-serif" font-size="72.50" fill="#000" xml:space="preserve">0</text>
<text transform="translate(106.34 1333.60) scale(0.6800 1)" x="0.00" font-family="&quot;Liberation Sans&quot;, sans-serif" font-size="72.50" fill="#000" xml:space="preserve">0</text>
<text transform="translate(584.49 1333.60) scale(0.6800 1)" x="0.00 58.32 96.47 144.71" font-family="&quot;Liberation Sans&quot;, sans-serif" font-size="72.50" fill="#000" xml:space="preserve">1 10</text>
<text transform="translate(716.74 1305.70) scale(0.8000 1)" x="0.00" font-family="&quot;Liberation Sans&quot;, sans-serif" font-size="46.80" fill="#000" xml:space="preserve">4</text>
<text transform="translate(1126.19 1333.60) scale(0.6800 1)" x="0.00 58.32 96.47 144.71" font-family="&quot;Liberation Sans&quot;, sans-serif" font-size="72.50" fill="#000" xml:space="preserve">2 10</text>
<text transform="translate(1258.44 1305.70) scale(0.8000 1)" x="0.00" font-family="&quot;Liberation Sans&quot;, sans-serif" font-size="46.80" fill="#000" xml:space="preserve">4</text>
<text transform="translate(1666.69 1333.60) scale(0.6800 1)" x="0.00 58.32 96.47 144.71" font-family="&quot;Liberation Sans&quot;, sans-serif" font-size="72.50" fill="#000" xml:space="preserve">3 10</text>
<text transform="translate(1798.94 1305.70) scale(0.8000 1)" x="0.00" font-family="&quot;Liberation Sans&quot;, sans-serif" font-size="46.80" fill="#000" xml:space="preserve">4</text>
<text transform="translate(2210.79 1333.60) scale(0.6800 1)" x="0.00 58.32 96.47 144.71" font-family="&quot;Liberation Sans&quot;, sans-serif" font-size="72.50" fill="#000" xml:space="preserve">4 10</text>
<text transform="translate(2343.04 1305.70) scale(0.8000 1)" x="0.00" font-family="&quot;Liberation Sans&quot;, sans-serif" font-size="46.80" fill="#000" xml:space="preserve">4</text>
<text transform="translate(2056.81 245.00) scale(0.8000 1)" x="0.00 40.56 81.16 108.93" font-family="&quot;Liberation Sans&quot;, sans-serif" font-size="60.90" fill="#000" xml:space="preserve">No.1</text>
<text transform="translate(2056.81 328.50) scale(0.8000 1)" x="0.00 40.56 81.16 108.93 142.93" font-family="&quot;Liberation Sans&quot;, sans-serif" font-size="60.90" fill="#fe0000" xml:space="preserve">No.10</text>
<text transform="translate(1197.5 1526.5) scale(1.09 1)" text-anchor="middle" font-family="&quot;Liberation Serif&quot;, serif" font-size="76" fill="#000">(<tspan font-weight="bold">a</tspan>) Time-series data</text>
</svg>
</body></html>
